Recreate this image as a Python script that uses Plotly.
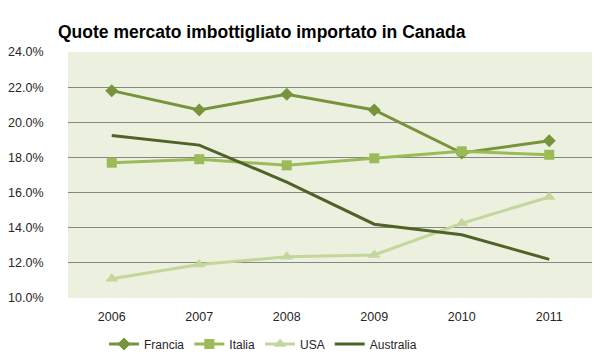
import plotly.graph_objects as go

years = ["2006", "2007", "2008", "2009", "2010", "2011"]
francia = [21.8, 20.7, 21.6, 20.7, 18.25, 18.95]
italia = [17.7, 17.9, 17.55, 17.95, 18.35, 18.15]
usa = [11.1, 11.9, 12.35, 12.45, 14.25, 15.75]
australia = [19.25, 18.7, 16.6, 14.2, 13.6, 12.2]
y_ticks = [10, 12, 14, 16, 18, 20, 22, 24]

FONT = "Liberation Sans, Arial, sans-serif"

fig = go.Figure()
fig.add_trace(go.Scatter(x=years, y=francia, name="Francia", mode="lines+markers",
                         line=dict(color="#77933C", width=3),
                         marker=dict(symbol="diamond", size=10, color="#77933C")))
fig.add_trace(go.Scatter(x=years, y=italia, name="Italia", mode="lines+markers",
                         line=dict(color="#9BBB59", width=3),
                         marker=dict(symbol="square", size=10, color="#9BBB59")))
fig.add_trace(go.Scatter(x=years, y=usa, name="USA", mode="lines+markers",
                         line=dict(color="#C3D69B", width=3),
                         marker=dict(symbol="triangle-up", size=11, color="#C3D69B")))
fig.add_trace(go.Scatter(x=years, y=australia, name="Australia", mode="lines",
                         line=dict(color="#4F6228", width=3)))

fig.update_layout(
    width=600, height=362,
    margin=dict(l=60, r=15, t=44, b=72, autoexpand=False),
    paper_bgcolor="white",
    plot_bgcolor="#EBF1DE",
    font=dict(family=FONT, size=12, color="#262626"),
    title=dict(text="<b>Quote mercato imbottigliato importato in Canada</b>",
               x=50/600, xanchor="left", xref="container",
               y=1 - 24/362, yanchor="middle", yref="container",
               font=dict(family=FONT, size=17.5, color="black")),
    showlegend=True,
    legend=dict(orientation="h", x=0.425, xanchor="center", xref="container",
                y=26/362, yref="container", yanchor="middle",
                font=dict(family=FONT, size=12, color="#262626"),
                itemwidth=30, tracegroupgap=0),
    xaxis=dict(type="category", range=[-0.5, 5.5], showgrid=False, showline=False,
               ticks="", tickfont=dict(size=12.5), ticklabelstandoff=9),
    yaxis=dict(range=[10, 24], tickvals=y_ticks,
               ticktext=[f"{v:.1f}%" for v in y_ticks],
               showgrid=True, gridcolor="#868686", gridwidth=1,
               zeroline=False, showline=False, ticks="outside", ticklen=0,
               tickfont=dict(size=12.5), ticklabelstandoff=21),
)
fig.write_html("out.html")
